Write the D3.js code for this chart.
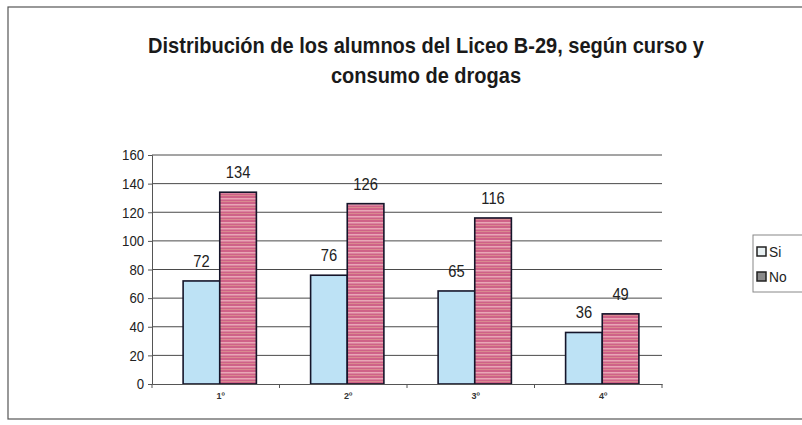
<!DOCTYPE html>
<html>
<head>
<meta charset="utf-8">
<script src="https://cdn.jsdelivr.net/npm/d3@7"></script>
<style>
  body { margin: 0; background: #fff; }
  svg { display: block; }
</style>
</head>
<body>
<script>
// datos del grafico
const cursos = ["1º", "2º", "3º", "4º"];
const series = ["Si", "No"];
const si = [72, 76, 65, 36];
const no = [134, 126, 116, 49];
const yTicks = [0, 20, 40, 60, 80, 100, 120, 140, 160];
const titleLines = ["Distribución de los alumnos del Liceo B-29, según curso y", "consumo de drogas"];

const W = 802, H = 425;
const font = "'Liberation Sans', Arial, sans-serif";
const plot = { left: 152, right: 662, top: 155, bottom: 384 };

const svg = d3.select("body").append("svg")
  .attr("width", W)
  .attr("height", H);

// patron de rayas para "No"
const defs = svg.append("defs");
const pat = defs.append("pattern")
  .attr("id", "rayas")
  .attr("patternUnits", "userSpaceOnUse")
  .attr("width", 8)
  .attr("height", 6);
pat.append("rect").attr("width", 8).attr("height", 6).attr("fill", "#cf6288");
pat.append("rect").attr("y", 0).attr("width", 8).attr("height", 1.5).attr("fill", "#e9a6b6");
pat.append("rect").attr("y", 3).attr("width", 8).attr("height", 1).attr("fill", "#d98a8f");

const colors = { Si: "#bde2f5", No: "url(#rayas)" };

// marco del grafico
svg.append("rect")
  .attr("x", 8).attr("y", 7)
  .attr("width", W + 10).attr("height", 412)
  .attr("fill", "#fff")
  .attr("stroke", "#555")
  .attr("stroke-width", 1.2);

// titulo (letra angosta)
svg.append("g").selectAll("text")
  .data(titleLines)
  .join("text")
  .attr("transform", (d, i) => `translate(426,${53 + i * 30}) scale(0.91,1)`)
  .attr("text-anchor", "middle")
  .style("font-family", font)
  .style("font-weight", "bold")
  .style("font-size", "22px")
  .attr("fill", "#1a1a1a")
  .text(d => d);

const x0 = d3.scaleBand()
  .domain(cursos)
  .range([plot.left, plot.right]);

const x1 = d3.scaleBand()
  .domain(series)
  .range([0, x0.bandwidth()])
  .paddingInner(0)
  .paddingOuter(0.74);

const y = d3.scaleLinear()
  .domain([0, 160])
  .range([plot.bottom, plot.top]);

// lineas de division
svg.append("g").selectAll("line")
  .data(yTicks.filter(d => d > 0))
  .join("line")
  .attr("x1", plot.left)
  .attr("x2", plot.right)
  .attr("y1", d => y(d))
  .attr("y2", d => y(d))
  .attr("stroke", "#4a4a4a")
  .attr("stroke-width", 1);

// eje y
const yAxis = svg.append("g")
  .attr("transform", `translate(${plot.left},0)`)
  .call(d3.axisLeft(y).tickValues(yTicks).tickSize(4).tickPadding(5));
yAxis.select(".domain").attr("stroke", "#555");
yAxis.selectAll(".tick line").attr("stroke", "#555");
yAxis.selectAll("text")
  .attr("transform", "scale(0.88,1)")
  .style("font-family", font)
  .style("font-size", "15px")
  .attr("fill", "#222");

// barras
const rows = cursos.map((c, i) => ({ curso: c, Si: si[i], No: no[i] }));

const groups = svg.append("g").selectAll("g")
  .data(rows)
  .join("g")
  .attr("transform", d => `translate(${x0(d.curso) + 4},0)`);

groups.selectAll("rect")
  .data(d => series.map(s => ({ key: s, value: d[s] })))
  .join("rect")
  .attr("x", d => x1(d.key))
  .attr("y", d => y(d.value))
  .attr("width", x1.bandwidth())
  .attr("height", d => y(0) - y(d.value))
  .attr("fill", d => colors[d.key])
  .attr("stroke", "#15152a")
  .attr("stroke-width", 1.6);

groups.selectAll("text")
  .data(d => series.map(s => ({ key: s, value: d[s] })))
  .join("text")
  .attr("transform", d => `translate(${x1(d.key) + x1.bandwidth() / 2},${y(d.value) - 14}) scale(0.92,1)`)
  .attr("text-anchor", "middle")
  .style("font-family", font)
  .style("font-size", "16px")
  .attr("fill", "#222")
  .text(d => d.value);

// eje x
const xAxis = svg.append("g")
  .attr("transform", `translate(0,${plot.bottom})`)
  .call(d3.axisBottom(x0).tickSize(0).tickPadding(9));
xAxis.select(".domain").attr("stroke", "#555");
xAxis.selectAll("text")
  .attr("dx", 5)
  .style("font-family", font)
  .style("font-size", "9px")
  .style("font-weight", "bold")
  .attr("fill", "#333");
// marcas entre categorias
svg.append("g").selectAll("line")
  .data(d3.range(cursos.length + 1))
  .join("line")
  .attr("x1", i => plot.left + i * x0.step())
  .attr("x2", i => plot.left + i * x0.step())
  .attr("y1", plot.bottom)
  .attr("y2", plot.bottom + 4)
  .attr("stroke", "#555");

// leyenda
const legend = svg.append("g").attr("transform", "translate(753,235)");
legend.append("rect")
  .attr("width", 60).attr("height", 57)
  .attr("fill", "#fff")
  .attr("stroke", "#888")
  .attr("stroke-width", 1);
const li = legend.selectAll("g")
  .data(series)
  .join("g")
  .attr("transform", (d, i) => `translate(4,${12 + i * 25})`);
li.append("rect")
  .attr("width", 9).attr("height", 9)
  .attr("fill", d => d === "Si" ? "#e8f0f2" : "#8a8a8a")
  .attr("stroke", "#222")
  .attr("stroke-width", 1.5);
li.append("text")
  .attr("transform", "translate(12,10) scale(0.92,1)")
  .style("font-family", font)
  .style("font-size", "15px")
  .attr("fill", "#222")
  .text(d => d);
</script>
</body>
</html>
